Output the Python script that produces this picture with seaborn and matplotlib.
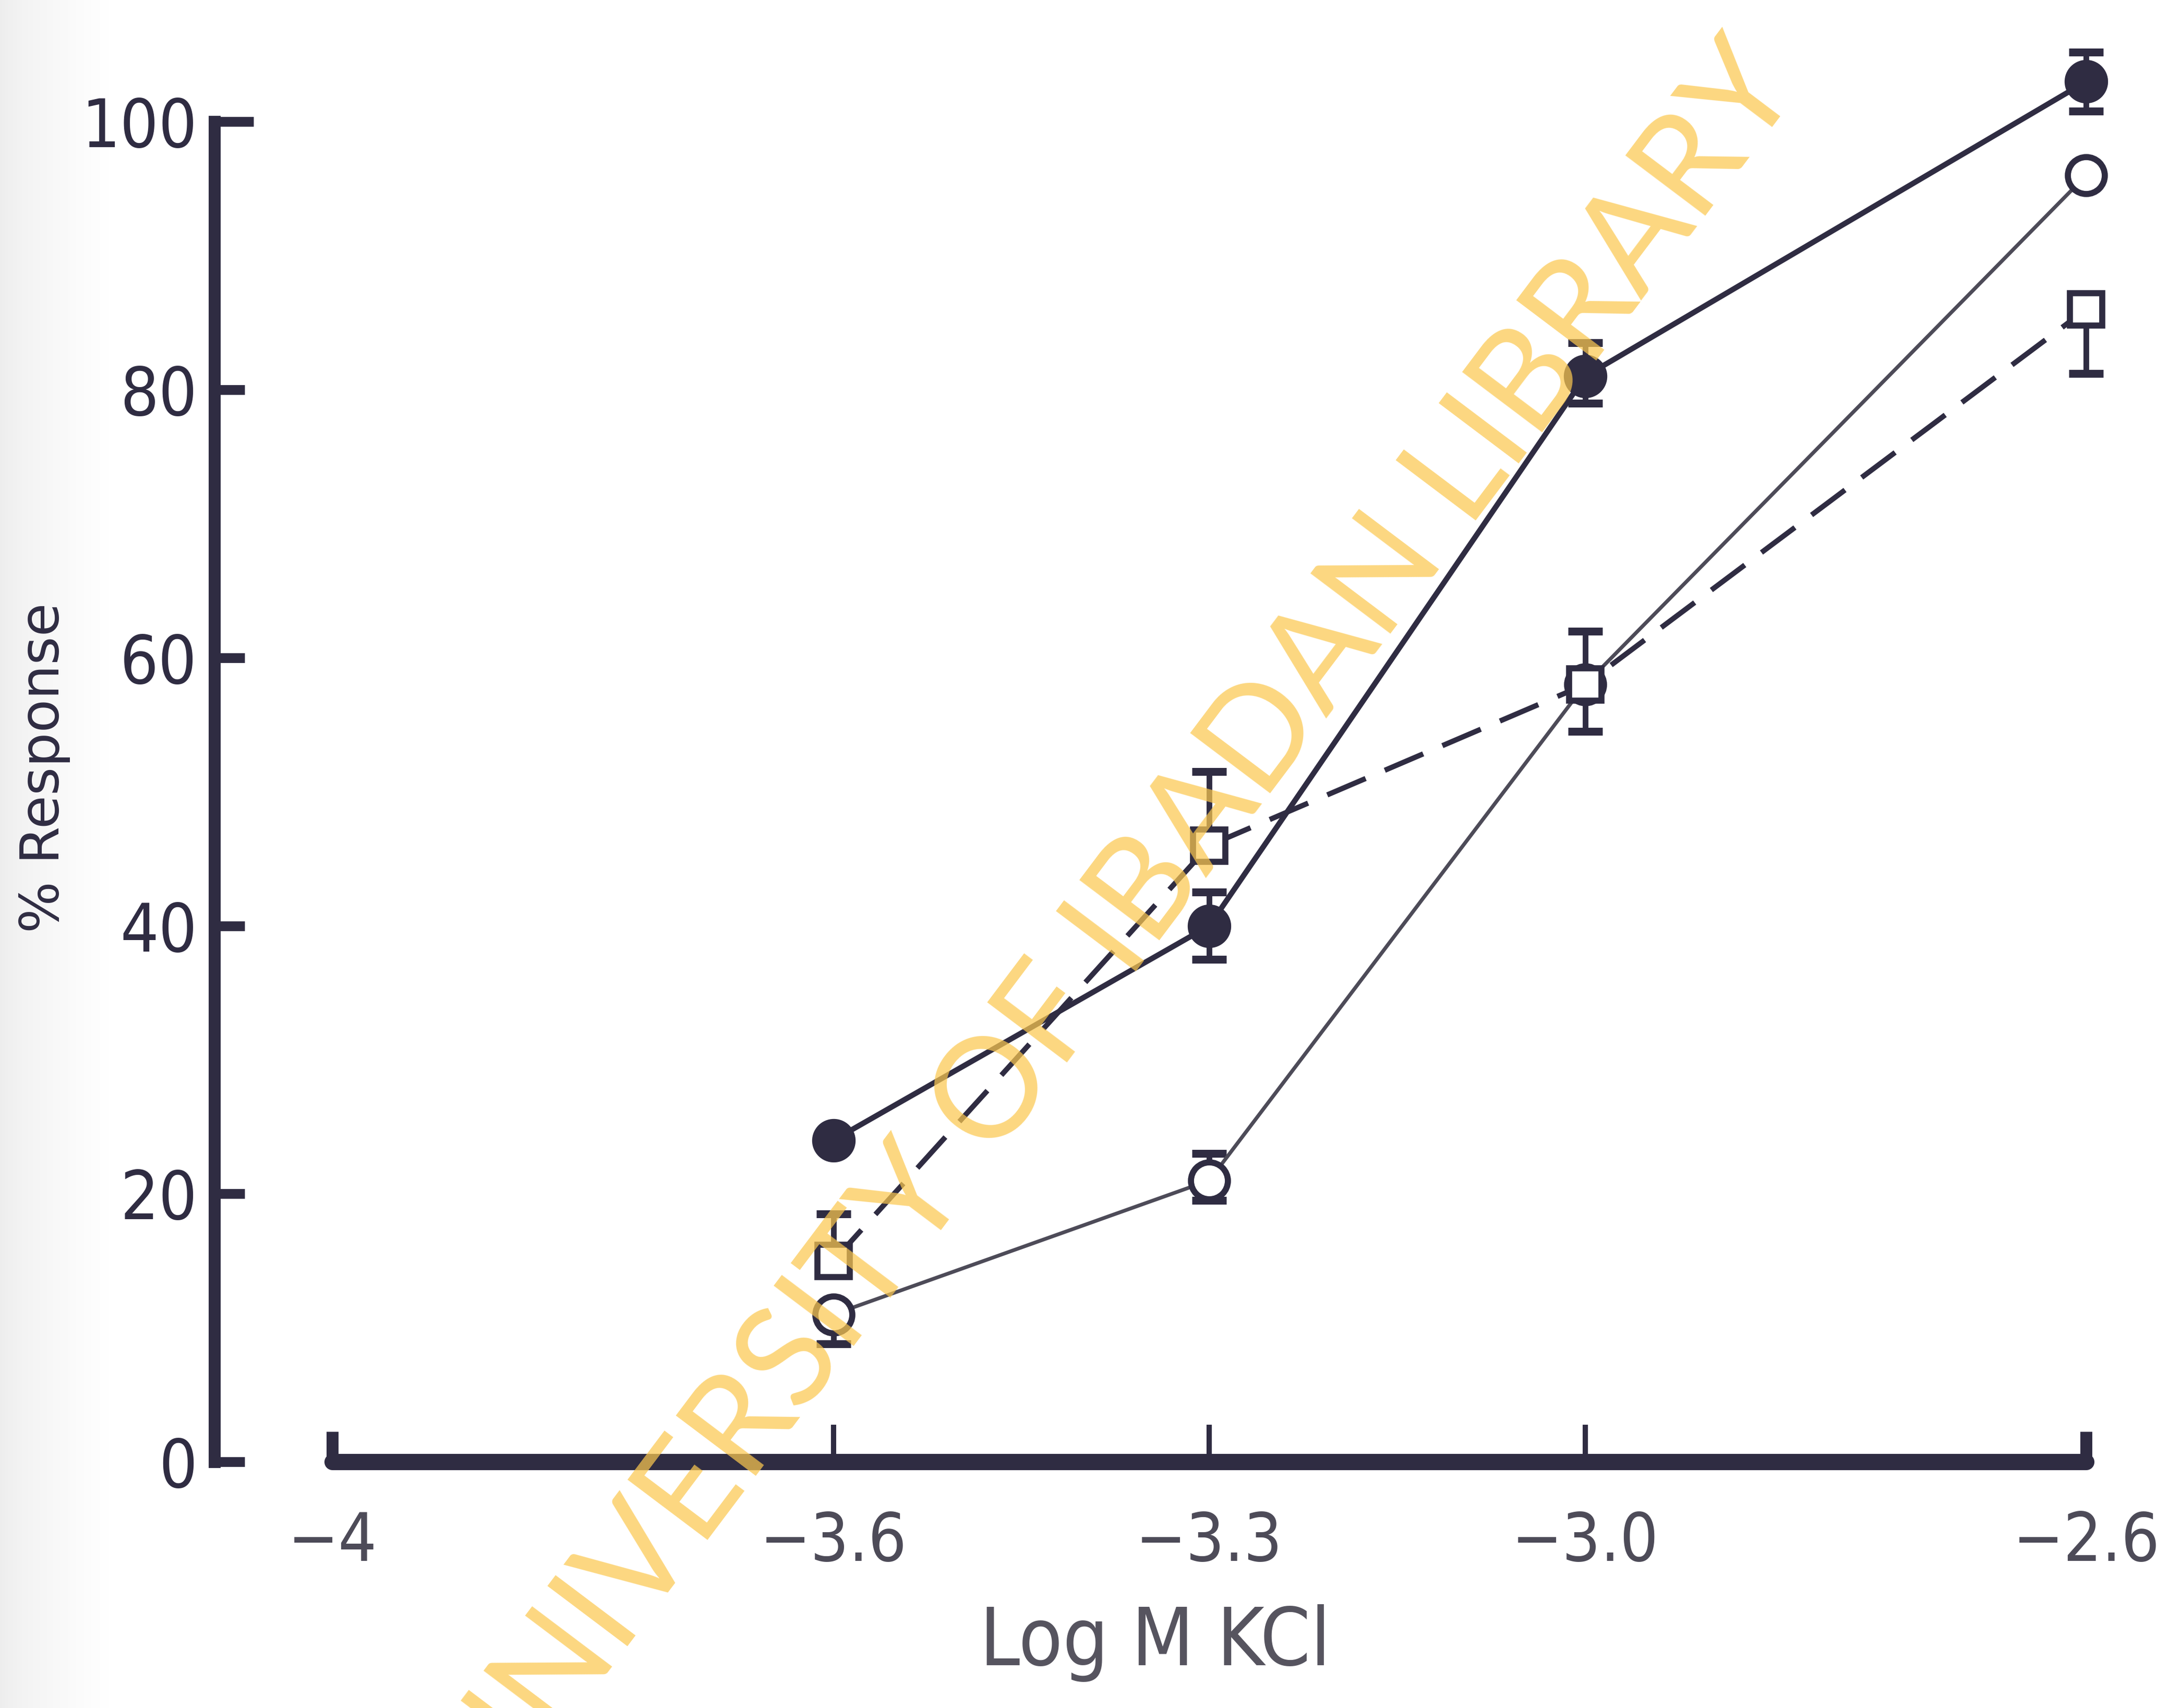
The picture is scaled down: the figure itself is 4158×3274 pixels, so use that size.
import numpy as np
import pandas as pd
import matplotlib
matplotlib.use("Agg")
import matplotlib.pyplot as plt
import seaborn as sns

# log molar KCl concentrations and % responses
log_kcl = [-3.6, -3.3, -3.0, -2.6]
resp_filled = [24, 40, 81, 103]
resp_open = [11, 21, 58, 96]
resp_square = [15, 46, 58, 86]

# error bar limits (lower, upper); equal to the mean where no bar is drawn
filled_lo = [24, 37.5, 79, 100.8]
filled_hi = [24, 42.5, 83.5, 105.2]
open_lo = [8.8, 19.5, 54.5, 96]
open_hi = [11, 23, 58, 96]
square_lo = [15, 46, 58, 81.2]
square_hi = [18.5, 51.5, 62, 86]

x_ticks = [-4, -3.6, -3.3, -3.0, -2.6]
x_ticklabels = ["\u22124", "\u22123.6", "\u22123.3", "\u22123.0", "\u22122.6"]
y_ticks = [0, 20, 40, 60, 80, 100]
y_ticklabels = ["0", "20", "40", "60", "80", "100"]

INK = "#2f2c42"
GREY_INK = "#4d4b58"

sns.set_theme(style="white")
plt.rcParams["font.family"] = ["DejaVu Sans"]

fig = plt.figure(figsize=(4158 / 300, 3274 / 300), dpi=300)
fig.patch.set_facecolor("white")

# page shadow along the left margin
shade = fig.add_axes([0, 0, 0.05, 1], zorder=-5)
g = 0.93 + 0.07 * np.linspace(0, 1, 256) ** 0.7
img = np.dstack([np.tile(g, (8, 1))] * 3)
shade.imshow(img, aspect="auto", extent=[0, 1, 0, 1])
shade.axis("off")

ax = fig.add_axes([0.0989, 0.1441, 0.9011, 0.8474])
ax.set_facecolor("none")
ax.set_xlim(-4.094, -4.094 + 0.9011 / 0.5776)
ax.set_ylim(0, 108)

df = pd.DataFrame({
    "log_kcl": log_kcl * 3,
    "response": resp_filled + resp_open + resp_square,
    "series": ["filled"] * 4 + ["open"] * 4 + ["square"] * 4,
})

def err(y, lo, hi):
    y, lo, hi = map(np.asarray, (y, lo, hi))
    return np.vstack([y - lo, hi - y])

eb_kw = dict(fmt="none", ecolor=INK, elinewidth=2.6, capsize=8, capthick=3.6, zorder=2)
ax.errorbar(log_kcl, resp_filled, yerr=err(resp_filled, filled_lo, filled_hi), **eb_kw)
ax.errorbar(log_kcl, resp_open, yerr=err(resp_open, open_lo, open_hi), **eb_kw)
ax.errorbar(log_kcl, resp_square, yerr=err(resp_square, square_lo, square_hi), **eb_kw)

sns.lineplot(data=df[df.series == "filled"], x="log_kcl", y="response", ax=ax,
             color=INK, lw=2.5, marker="o", markersize=19,
             markerfacecolor=INK, markeredgecolor=INK, markeredgewidth=1,
             zorder=4, legend=False)
sns.lineplot(data=df[df.series == "open"], x="log_kcl", y="response", ax=ax,
             color=GREY_INK, lw=1.7, marker="o", markersize=17,
             markerfacecolor="white", markeredgecolor=INK, markeredgewidth=2.8,
             zorder=3, legend=False)
sns.lineplot(data=df[df.series == "square"], x="log_kcl", y="response", ax=ax,
             color=INK, lw=2.4, linestyle=(0, (8, 4)), marker="s", markersize=15,
             markerfacecolor="white", markeredgecolor=INK, markeredgewidth=2.8,
             zorder=3, legend=False)

# axes frame drawn as bounded spines
for side in ("top", "right"):
    ax.spines[side].set_visible(False)
ax.spines["left"].set_bounds(0, 100)
ax.spines["left"].set_linewidth(5.5)
ax.spines["left"].set_color(INK)
ax.spines["bottom"].set_bounds(-4, -2.6)
ax.spines["bottom"].set_linewidth(7.5)
ax.spines["bottom"].set_color(INK)
ax.spines["bottom"].set_capstyle("round")

ax.set_xticks(x_ticks)
ax.set_xticklabels(x_ticklabels, fontsize=31, fontstretch="condensed", color=GREY_INK)
ax.set_yticks(y_ticks)
ax.set_yticklabels(y_ticklabels, fontsize=31, fontstretch="condensed", color=INK)
ax.tick_params(axis="x", bottom=True, direction="in", length=17, width=2.4,
               color=INK, pad=22)
ax.tick_params(axis="y", left=True, direction="in", length=14, width=4.5,
               color=INK, pad=8)
for t in (ax.xaxis.get_major_ticks()[0], ax.xaxis.get_major_ticks()[-1]):
    t.tick1line.set_markeredgewidth(5.5)
    t.tick1line.set_markersize(14)
ytk = ax.yaxis.get_major_ticks()
ytk[-1].tick1line.set_markersize(18)
ax.set_xlabel("")
ax.set_ylabel("")

fig.text(0.5325, 0.038, "Log M KCl", fontsize=37, fontstretch="condensed",
         color="#56545f", ha="center", va="center")
fig.text(0.0204, 0.5506, "% Response", fontsize=25, color=INK,
         rotation=90, ha="center", va="center")

# library watermark across the plot
fig.text(0.515, 0.455, "UNIVERSITY OF IBADAN LIBRARY", family=["Lato", "DejaVu Sans"],
         fontsize=64, color="#fcc84f", alpha=0.72, rotation=53,
         ha="center", va="center", rotation_mode="anchor", zorder=10)

fig.savefig("out.png", dpi=300)
